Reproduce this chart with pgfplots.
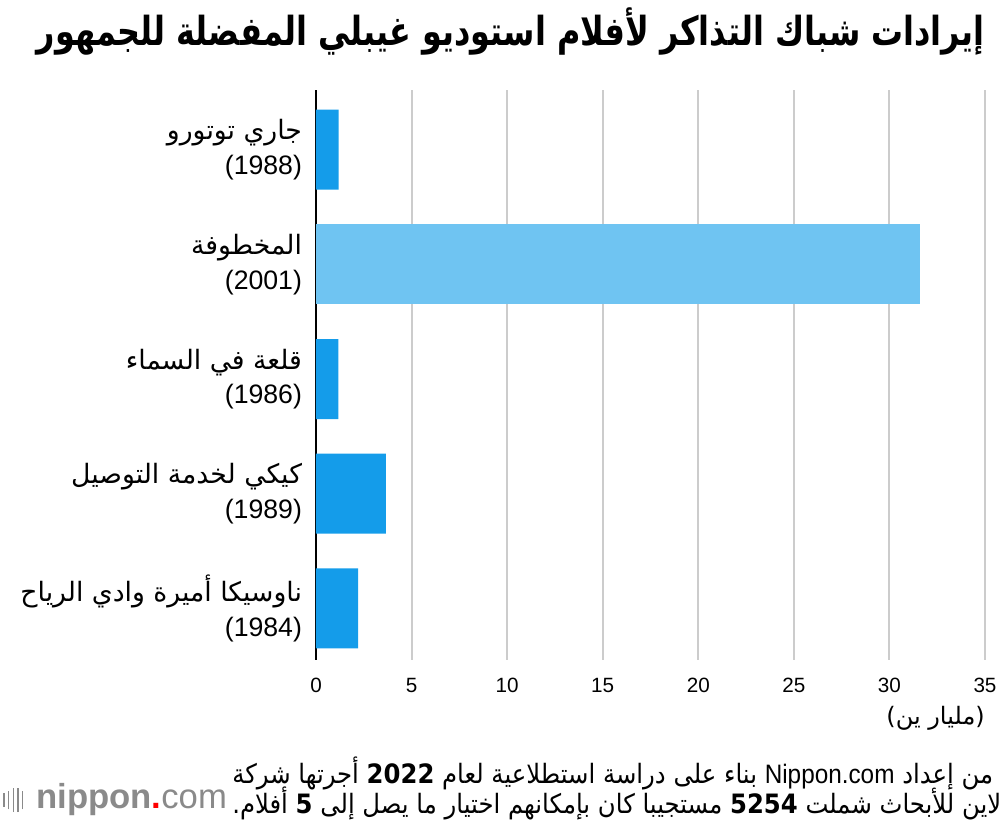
\documentclass[border=0pt]{standalone}
\usepackage{fontspec}
\setmainfont{Liberation Sans}
\newfontfamily\ar[Script=Arabic]{DejaVu Sans}
\TeXXeTstate=1
\usepackage{graphicx}
\usepackage{pgfplots}
\pgfplotsset{compat=1.18}
\usepackage{pgfplotstable}

\definecolor{barblue}{HTML}{149CEA}
\definecolor{barlight}{HTML}{6FC4F2}
\definecolor{gridgray}{HTML}{CCCCCC}
\definecolor{logogray}{HTML}{8A8A8A}

% box office, billion yen (category position, value)
\pgfplotstableread{
pos value
0 1.18
2 1.17
3 3.66
4 2.20
}\otherfilms
\pgfplotstableread{
pos value
1 31.6
}\spirited

\begin{document}
\begin{tikzpicture}
\useasboundingbox (0,0) rectangle (750pt,-618pt);

\begin{axis}[
    at={(237pt,-495pt)}, anchor=south west,
    scale only axis, width=501.75pt, height=427.5pt,
    xbar, bar width=60pt, bar shift=0pt,
    xmin=0, xmax=35, xtick={0,5,...,35},
    ymin=-0.52, ymax=4.45, y dir=reverse,
    ytick={0,1,2,3,4},
    yticklabels={
        {{\ar\beginR جاري توتورو\endR}\\(1988)},
        {{\ar\beginR المخطوفة\endR}\\(2001)},
        {{\ar\beginR قلعة في السماء\endR}\\(1986)},
        {{\ar\beginR كيكي لخدمة التوصيل\endR}\\(1989)},
        {{\ar\beginR ناوسيكا أميرة وادي الرياح\endR}\\(1984)}},
    yticklabel style={font=\fontsize{20}{26}\selectfont, align=right, xshift=-7pt},
    xticklabel style={font=\fontsize{15.5}{18}\selectfont, yshift=-10pt},
    /pgf/number format/assume math mode=true,
    major tick length=0pt,
    xmajorgrids, grid style={gridgray, line width=1.5pt},
    separate axis lines,
    axis x line*=bottom, axis y line*=left,
    x axis line style={draw=none},
    y axis line style={black, line width=1.5pt},
    clip=false,
]
\addplot[fill=barblue, draw=none] table[x=value, y=pos] {\otherfilms};
\addplot[fill=barlight, draw=none] table[x=value, y=pos] {\spirited};
\end{axis}

% title
\node[anchor=east, inner sep=0pt] at (738.75pt,-24pt)
  {\resizebox{711pt}{\height}{\ar\bfseries\fontsize{30}{34}\selectfont\beginR إيرادات شباك التذاكر لأفلام استوديو غيبلي المفضلة للجمهور\endR}};

% unit
\node[anchor=east, inner sep=0pt] at (738.75pt,-538.5pt)
  {\ar\fontsize{18}{22}\selectfont\beginR(مليار ين)\endR};

% footer
\node[anchor=west, inner sep=0pt] at (174pt,-579.75pt)
  {\scalebox{0.912}[1]{\ar\fontsize{20}{24}\selectfont\beginR من إعداد \beginL{\rmfamily Nippon.com}\endL{} بناء على دراسة استطلاعية لعام \beginL{\bfseries 2022}\endL{} أجرتها شركة\endR}};
\node[anchor=west, inner sep=0pt] at (174pt,-602.25pt)
  {\scalebox{0.912}[1]{\ar\fontsize{20}{24}\selectfont\beginR لاين للأبحاث شملت \beginL{\bfseries 5254}\endL{} مستجيبا كان بإمكانهم اختيار ما يصل إلى \beginL{\bfseries 5}\endL{} أفلام.\endR}};

% logo
\foreach \x/\h in {3/10,6.5/14,10/18,13.5/18,17/14}
  \draw[logogray, line width=1.2pt] (\x pt,-600pt-\h pt*0.5) -- (\x pt,-600pt+\h pt*0.5);
\node[anchor=west, inner sep=0pt] at (27pt,-600pt)
  {\fontsize{26}{26}\selectfont\color{logogray}\bfseries nippon\textcolor{red}{.}\mdseries com};
\end{tikzpicture}
\end{document}
